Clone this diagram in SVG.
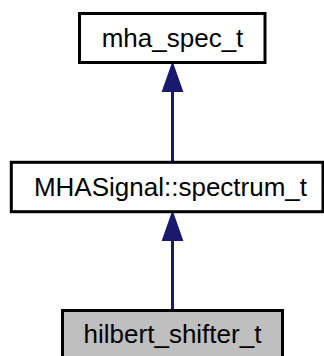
<svg xmlns="http://www.w3.org/2000/svg" width="324" height="356" viewBox="0 0 324 356">
<style>
.box{fill:#ffffff;stroke:#000000;stroke-width:3}
.cur{fill:#bfbfbf;stroke:#000000;stroke-width:3}
.lbl{font-family:"Liberation Sans",Arial,sans-serif;font-size:26px;fill:#000000;text-anchor:middle}
.edge{stroke:#191970;stroke-width:3;fill:none}
.head{fill:#191970;stroke:#191970;stroke-width:2}
</style>
<rect width="324" height="356" fill="#ffffff"/>
<g id="connectors">
<line class="edge" x1="172.5" y1="92" x2="172.5" y2="162"/>
<polygon class="head" points="172.5,64 163,91 182,91"/>
<line class="edge" x1="172.5" y1="240" x2="172.5" y2="310"/>
<polygon class="head" points="172.5,213 163,240 182,240"/>
</g>
<g id="node_mha_spec_t">
<rect class="box" x="79.5" y="13.5" width="185.5" height="49"/>
<text class="lbl" x="172.5" y="46.5">mha_spec_t</text>
</g>
<g id="node_spectrum_t">
<rect class="box" x="11.3" y="162.3" width="311.7" height="49.4"/>
<text class="lbl" x="170.5" y="196">MHASignal::spectrum_t</text>
</g>
<g id="node_hilbert_shifter_t">
<rect class="cur" x="62.5" y="310.5" width="220" height="49"/>
<text class="lbl" x="172.5" y="343">hilbert_shifter_t</text>
</g>
</svg>
